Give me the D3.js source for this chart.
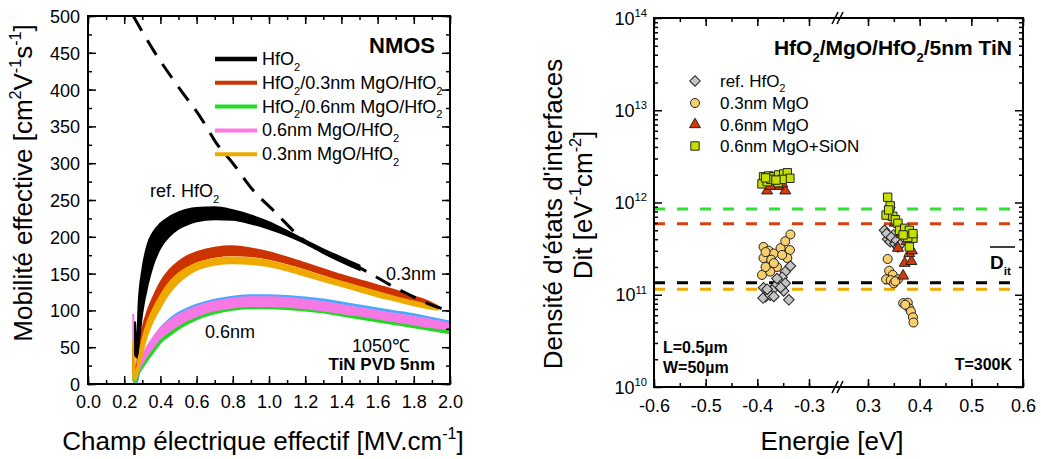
<!DOCTYPE html>
<html><head><meta charset="utf-8">
<script src="https://cdn.jsdelivr.net/npm/d3@7"></script>
<style>
body{margin:0;background:#fff}
svg{display:block}
text{font-family:"Liberation Sans",Arial,Helvetica,sans-serif;fill:#000}
</style>
</head><body>
<svg id="c" width="1041" height="459"></svg>
<script>
// ---------------- LEFT PANEL DATA (mobility vs effective field) ----------------
const eHfO2 = [0.26,0.27,0.28,0.30,0.33,0.36,0.40,0.45,0.50,0.55,0.60,0.70,0.80,0.90,1.00,1.10,1.20,1.30,1.40,1.50];
const hfo2Upper = [85,50,110,155,190,206,218,227,233,237,239,240,236,229,220,208,195,183,172,161];
const hfo2Lower = [40,36,55,97,135,162,185,201,211,217,221,224,223,218,211,202,191,178,166,155];

const eMgO03 = [0.25,0.26,0.27,0.28,0.30,0.33,0.36,0.40,0.45,0.50,0.55,0.60,0.70,0.80,0.90,1.00,1.10,1.20,1.30,1.40,1.50,1.60,1.70,1.80,1.90,1.93];
const sandw03Upper = [50,20,25,50,75,100,118,138,155,166,174,179,185,187,184,179,172,164,156,148,141,134,127,119,110,106];
const sandw03Lower = [20,10,15,30,55,80,98,118,137,150,159,166,173,175,174,170,164,157,149,141,134,127,120,113,106,103];
const bot03Upper = [60,15,20,35,60,85,102,120,138,150,158,164,170,172,171,167,161,154,146,139,132,125,118,112,106,104];
const bot03Lower = [10,5,12,22,42,68,86,104,124,138,148,155,162,164,163,160,154,147,140,133,126,119,113,107,102,101];

const eMgO06 = [0.25,0.26,0.27,0.28,0.30,0.33,0.36,0.40,0.45,0.50,0.55,0.60,0.70,0.80,0.90,1.00,1.10,1.20,1.30,1.40,1.50,1.60,1.70,1.80,1.90,2.00];
const sandw06Upper = [30,10,14,22,32,44,54,66,76,84,90,96,103,108,110,110,109,107,104,100,96,92,88,84,80,76];
const sandw06Lower = [5,3,8,14,22,33,43,56,66,75,82,88,96,101,103,103,102,100,97,93,89,85,81,77,73,69];
const bot06Upper = [95,20,18,26,38,52,63,76,86,94,100,105,112,116,118,118,117,114,111,107,103,99,95,91,87,82];
const bot06Lower = [15,8,12,18,28,40,50,62,72,80,87,92,100,104,106,106,105,103,100,96,93,89,85,81,77,74];
const blueCurve = [2,0,4,16,30,47,60,75,87,96,102,107,114,118,120,120,119,117,114,110,106,102,98,94,89,84];

// universal mobility reference (dashed)
const limitE  = [0.25,0.36,0.51,0.62,0.71,0.80,0.91,1.04,1.17,1.35,1.49,1.72,1.98,2.00];
const limitMu = [500, 454, 400, 363, 327, 300, 264, 232, 200, 173, 159, 128, 101, 100];

const legendLeftNames = ["HfO_{2}", "HfO_{2}/0.3nm MgO/HfO_{2}", "HfO_{2}/0.6nm MgO/HfO_{2}", "0.6nm MgO/HfO_{2}", "0.3nm MgO/HfO_{2}"];
const legendLeftColors = ["#000000", "#cc3300", "#22dd22", "#ff77e6", "#eeaa00"];

const xTicksLeft = [0,0.2,0.4,0.6,0.8,1.0,1.2,1.4,1.6,1.8,2.0];
const yTicksLeft = [0,50,100,150,200,250,300,350,400,450,500];

// ---------------- RIGHT PANEL DATA (Dit vs energy) ----------------
const refHfO2E = [-0.336,-0.346,-0.352,-0.359,-0.365,-0.371,-0.378,-0.384,-0.389,-0.388,-0.346,-0.349,-0.339,-0.375,-0.381,-0.362,-0.355,-0.368,
                  0.332,0.338,0.343,0.349,0.352,0.358,0.336,0.345,0.355,0.362];
const refHfO2D = [2.05e11,1.78e11,1.55e11,1.38e11,1.24e11,1.12e11,1.04e11,9.5e10,9.2e10,1.19e11,1.33e11,1.1e11,8.8e10,9.9e10,1.15e11,1.5e11,1.2e11,9.6e10,
                  5.0e11,4.0e11,3.76e11,4.45e11,3.6e11,3.3e11,4.6e11,4.2e11,3.9e11,3.5e11];
const mgo03E = [-0.336,-0.388,-0.378,-0.368,-0.355,-0.346,-0.337,-0.342,-0.388,-0.373,-0.362,-0.391,-0.375,-0.384,-0.368,-0.352,-0.384,
                0.338,0.341,0.348,0.335,0.344,0.350,0.358,0.368,0.377,0.380,0.383,0.387,0.388,0.372,0.353];
const mgo03D = [4.5e11,3.3e11,3.0e11,2.8e11,3.2e11,3.8e11,3.05e11,2.5e11,2.5e11,2.4e11,2.0e11,1.64e11,1.78e11,2.0e11,2.2e11,2.7e11,2.9e11,
                2.44e11,1.82e11,1.64e11,1.47e11,1.44e11,1.33e11,1.47e11,8.1e10,8.2e10,7.1e10,6.6e10,5.7e10,5.0e10,7.8e10,1.4e11];
const mgo06E = [-0.381,-0.346,-0.370,-0.360,-0.352,-0.375,
                0.342,0.348,0.352,0.358,0.371,0.384,0.368,0.365,0.375,0.380,0.385];
const mgo06D = [1.34e12,1.34e12,1.55e12,1.5e12,1.6e12,1.5e12,
                9.5e11,7.0e11,6.0e11,3.2e11,2.2e11,2.3e11,1.6e11,4.5e11,3.8e11,2.8e11,3.0e11];
const sionE = [-0.388,-0.378,-0.368,-0.359,-0.349,-0.342,-0.337,-0.391,-0.381,-0.360,-0.374,-0.352,-0.384,-0.364,
               0.338,0.343,0.335,0.348,0.353,0.358,0.361,0.371,0.380,0.387,0.377,0.380,0.368,0.387,0.340];
const sionD = [1.9e12,1.94e12,1.9e12,1.99e12,2.04e12,2.1e12,1.83e12,1.59e12,1.68e12,1.64e12,1.78e12,1.78e12,1.85e12,1.75e12,
               1.14e12,9.2e11,7.3e11,7.1e11,6.5e11,5.95e11,5.0e11,5.25e11,5.0e11,4.1e11,4.2e11,3.3e11,4.45e11,4.6e11,8.3e11];

const meanDit = [8.5e11, 5.9e11, 1.35e11, 1.15e11];
const meanDitColors = ["#33dd33", "#d84010", "#000000", "#eeaa00"];

const legendRightNames = ["ref. HfO_{2}", "0.3nm MgO", "0.6nm MgO", "0.6nm MgO+SiON"];
const xTicksRightNeg = [-0.6,-0.5,-0.4,-0.3];
const xTicksRightPos = [0.3,0.4,0.5,0.6];
const yDecades = [1e10,1e11,1e12,1e13,1e14];

// ---------------- helpers ----------------
const svg = d3.select("#c");
const FONT = '"Liberation Sans",Arial,Helvetica,sans-serif';

function rich(sel, str, fs) {
  const re = /([_^])\{([^}]*)\}/g;
  let last = 0, m, shift = 0;
  const parts = [];
  while ((m = re.exec(str)) !== null) {
    if (m.index > last) parts.push(["n", str.slice(last, m.index)]);
    parts.push([m[1] === "_" ? "sub" : "sup", m[2]]);
    last = re.lastIndex;
  }
  if (last < str.length) parts.push(["n", str.slice(last)]);
  parts.forEach(([mode, t]) => {
    const target = mode === "sub" ? 0.32 * fs : mode === "sup" ? -0.42 * fs : 0;
    const ts = sel.append("tspan").text(t).attr("dy", target - shift);
    if (mode !== "n") ts.attr("font-size", (0.62 * fs) + "px");
    shift = target;
  });
  return sel;
}
function label(g, x, y, str, fs, opts = {}) {
  const t = g.append("text").attr("x", x).attr("y", y)
    .attr("font-size", fs + "px")
    .attr("font-weight", opts.bold ? "bold" : "normal")
    .attr("text-anchor", opts.anchor || "start");
  if (opts.transform) t.attr("transform", opts.transform).attr("x", 0).attr("y", 0);
  rich(t, str, fs);
  return t;
}

// ================= LEFT PANEL =================
const L = {x0: 88, x1: 450, y0: 16, y1: 384};
const xl = d3.scaleLinear([0, 2], [L.x0, L.x1]);
const yl = d3.scaleLinear([0, 500], [L.y1, L.y0]);

svg.append("defs").append("clipPath").attr("id", "clipL")
  .append("rect").attr("x", L.x0).attr("y", L.y0).attr("width", L.x1 - L.x0).attr("height", L.y1 - L.y0);

const gl = svg.append("g");
const curves = gl.append("g").attr("clip-path", "url(#clipL)");

const band = (E, up, lo) => E.map((e, i) => ({e, hi: up[i], lo: lo[i]}));
const areaGen = d3.area().x(d => xl(d.e)).y0(d => yl(d.lo)).y1(d => yl(d.hi)).curve(d3.curveMonotoneX);
const lineGen = d3.line().x(d => xl(d[0])).y(d => yl(d[1])).curve(d3.curveMonotoneX);

function drawBand(E, up, lo, color) {
  const data = band(E, up, lo);
  curves.append("path").datum(data).attr("d", areaGen).attr("fill", color).attr("stroke", color).attr("stroke-width", 2);
}

// blue thin curve
curves.append("path").datum(eMgO06.map((e, i) => [e, blueCurve[i]])).attr("d", lineGen)
  .attr("fill", "none").attr("stroke", "#4aa8ff").attr("stroke-width", 3);
drawBand(eMgO06, sandw06Upper, sandw06Lower, "#22d822");
drawBand(eMgO06, bot06Upper, bot06Lower, "#f678e4");
drawBand(eMgO03, sandw03Upper, sandw03Lower, "#cc3300");
drawBand(eMgO03, bot03Upper, bot03Lower, "#eeaa00");
drawBand(eHfO2, hfo2Upper, hfo2Lower, "#000000");

// universal-mobility dashed curve
curves.append("path").datum(limitE.map((e, i) => [e, limitMu[i]]))
  .attr("d", lineGen)
  .attr("fill", "none").attr("stroke", "#000").attr("stroke-width", 3).attr("stroke-dasharray", "17,11");

// axes (inward ticks)
function styleAxis(g) { g.select(".domain").remove(); g.selectAll("line").attr("stroke", "#000").attr("stroke-width", 1.5); }
const xMinorL = d3.range(0, 2.01, 0.1).map(v => +v.toFixed(1));
const yMinorL = d3.range(0, 501, 25);
gl.append("g").attr("transform", `translate(0,${L.y1})`).call(d3.axisBottom(xl).tickValues(xMinorL).tickSize(-4).tickFormat("")).call(styleAxis);
gl.append("g").attr("transform", `translate(0,${L.y0})`).call(d3.axisTop(xl).tickValues(xMinorL).tickSize(-4).tickFormat("")).call(styleAxis);
gl.append("g").attr("transform", `translate(${L.x0},0)`).call(d3.axisLeft(yl).tickValues(yMinorL).tickSize(-4).tickFormat("")).call(styleAxis);
gl.append("g").attr("transform", `translate(${L.x1},0)`).call(d3.axisRight(yl).tickValues(yMinorL).tickSize(-4).tickFormat("")).call(styleAxis);

const axBL = gl.append("g").attr("transform", `translate(0,${L.y1})`)
  .call(d3.axisBottom(xl).tickValues(xTicksLeft).tickSize(-8).tickFormat(d => d.toFixed(1))).call(styleAxis);
axBL.selectAll("text").attr("font-family", FONT).attr("font-size", "18px").attr("fill", "#000").attr("y", 24).attr("dy", 0);
gl.append("g").attr("transform", `translate(0,${L.y0})`).call(d3.axisTop(xl).tickValues(xTicksLeft).tickSize(-8).tickFormat("")).call(styleAxis);
const axLL = gl.append("g").attr("transform", `translate(${L.x0},0)`)
  .call(d3.axisLeft(yl).tickValues(yTicksLeft).tickSize(-8).tickFormat(d3.format("d"))).call(styleAxis);
axLL.selectAll("text").attr("font-family", FONT).attr("font-size", "18px").attr("fill", "#000").attr("x", -8).attr("dy", "0.36em");
gl.append("g").attr("transform", `translate(${L.x1},0)`).call(d3.axisRight(yl).tickValues(yTicksLeft).tickSize(-8).tickFormat("")).call(styleAxis);

gl.append("rect").attr("x", L.x0).attr("y", L.y0).attr("width", L.x1 - L.x0).attr("height", L.y1 - L.y0)
  .attr("fill", "none").attr("stroke", "#000").attr("stroke-width", 2);

// legend
legendLeftNames.forEach((n, i) => {
  const yy = 59 + i * 23.8;
  gl.append("line").attr("x1", 215).attr("x2", 257).attr("y1", yy).attr("y2", yy)
    .attr("stroke", legendLeftColors[i]).attr("stroke-width", i === 0 ? 4.5 : 4);
  label(gl, 262, yy + 6, n, 18);
});

label(gl, 435, 53, "NMOS", 22, {bold: true, anchor: "end"});
label(gl, 150, 197, "ref. HfO_{2}", 18);
label(gl, 386, 280, "0.3nm", 18);
label(gl, 205, 338, "0.6nm", 18);
label(gl, 352, 352, "1050\u2103", 18);
label(gl, 435, 370, "TiN PVD 5nm", 17, {bold: true, anchor: "end"});

label(gl, 0, 0, "Mobilité effective [cm^{2}V^{-1}s^{-1}]", 26, {anchor: "middle", transform: "translate(32,183) rotate(-90)"});
label(gl, 263, 450, "Champ électrique effectif [MV.cm^{-1}]", 26, {anchor: "middle"});

// ================= RIGHT PANEL =================
const R = {x0: 654, x1: 1023, y0: 18, y1: 387};
const xrN = d3.scaleLinear([-0.6, -0.3], [654, 809]);
const xrP = d3.scaleLinear([0.3, 0.6], [868, 1023]);
const xr = e => e < 0 ? xrN(e) : xrP(e);
const yr = d3.scaleLog([1e10, 1e14], [R.y1, R.y0]);

const gr = svg.append("g");

// mean Dit dashed lines
meanDit.forEach((v, i) => {
  gr.append("line").attr("x1", R.x0).attr("x2", R.x1).attr("y1", yr(v)).attr("y2", yr(v))
    .attr("stroke", meanDitColors[i]).attr("stroke-width", 3).attr("stroke-dasharray", "11,12");
});

function pts(E, D) { return E.map((e, i) => [e, D[i]]); }
function drawSym(data, type, size, fill, rot) {
  gr.append("g").selectAll("path").data(data).join("path")
    .attr("d", d3.symbol(type, size))
    .attr("transform", d => `translate(${xr(d[0])},${yr(d[1])})` + (rot ? ` rotate(${rot})` : ""))
    .attr("fill", fill).attr("stroke", "#222").attr("stroke-width", 1);
}
drawSym(pts(mgo03E, mgo03D), d3.symbolCircle, 64, "#f8cf6c");
drawSym(pts(refHfO2E, refHfO2D), d3.symbolSquare, 56, "#c4c4c4", 45);
drawSym(pts(mgo06E, mgo06D), d3.symbolTriangle, 52, "#d33a08");
drawSym(pts(sionE, sionD), d3.symbolSquare, 70, "#c6e000");

// axes
const xMinN = d3.range(-0.6, -0.29, 0.05).map(v => +v.toFixed(2));
const xMinP = d3.range(0.3, 0.61, 0.05).map(v => +v.toFixed(2));
[[xrN, xMinN, xTicksRightNeg], [xrP, xMinP, xTicksRightPos]].forEach(([sc, mins, majs]) => {
  gr.append("g").attr("transform", `translate(0,${R.y1})`).call(d3.axisBottom(sc).tickValues(mins).tickSize(-4).tickFormat("")).call(styleAxis);
  gr.append("g").attr("transform", `translate(0,${R.y0})`).call(d3.axisTop(sc).tickValues(mins).tickSize(-4).tickFormat("")).call(styleAxis);
  const a = gr.append("g").attr("transform", `translate(0,${R.y1})`)
    .call(d3.axisBottom(sc).tickValues(majs).tickSize(-8).tickFormat(d => d.toFixed(1))).call(styleAxis);
  a.selectAll("text").attr("font-family", FONT).attr("font-size", "18px").attr("fill", "#000").attr("y", 25).attr("dy", 0);
  gr.append("g").attr("transform", `translate(0,${R.y0})`).call(d3.axisTop(sc).tickValues(majs).tickSize(-8).tickFormat("")).call(styleAxis);
});
const yMinR = [];
for (let dec = 1e10; dec < 1e14; dec *= 10) for (let k = 2; k <= 9; k++) yMinR.push(k * dec);
gr.append("g").attr("transform", `translate(${R.x0},0)`).call(d3.axisLeft(yr).tickValues(yMinR).tickSize(-4).tickFormat("")).call(styleAxis);
gr.append("g").attr("transform", `translate(${R.x1},0)`).call(d3.axisRight(yr).tickValues(yMinR).tickSize(-4).tickFormat("")).call(styleAxis);
gr.append("g").attr("transform", `translate(${R.x0},0)`).call(d3.axisLeft(yr).tickValues(yDecades).tickSize(-8).tickFormat("")).call(styleAxis);
gr.append("g").attr("transform", `translate(${R.x1},0)`).call(d3.axisRight(yr).tickValues(yDecades).tickSize(-8).tickFormat("")).call(styleAxis);
yDecades.forEach(v => {
  label(gr, 647, yr(v) + 6.5, "10^{" + Math.round(Math.log10(v)) + "}", 18, {anchor: "end"});
});

gr.append("rect").attr("x", R.x0).attr("y", R.y0).attr("width", R.x1 - R.x0).attr("height", R.y1 - R.y0)
  .attr("fill", "none").attr("stroke", "#000").attr("stroke-width", 2);

// axis break marks
[R.y0, R.y1].forEach(yy => {
  [0, 5].forEach(off => {
    gr.append("line").attr("x1", 832 + off).attr("y1", yy + 6).attr("x2", 838 + off).attr("y2", yy - 6)
      .attr("stroke", "#000").attr("stroke-width", 1.6);
  });
});

// legend
const legSyms = [[d3.symbolSquare, 56, "#c4c4c4", 45], [d3.symbolCircle, 64, "#f8cf6c", 0], [d3.symbolTriangle, 52, "#d33a08", 0], [d3.symbolSquare, 70, "#c6e000", 0]];
const legY = [81, 103, 124.5, 146];
legendRightNames.forEach((n, i) => {
  const [t, s, f, r] = legSyms[i];
  gr.append("path").attr("d", d3.symbol(t, s)).attr("transform", `translate(695,${legY[i]})` + (r ? ` rotate(${r})` : ""))
    .attr("fill", f).attr("stroke", "#222").attr("stroke-width", 1);
  label(gr, 720, legY[i] + 6, n, 17);
});

label(gr, 1012, 55, "HfO_{2}/MgO/HfO_{2}/5nm TiN", 21, {bold: true, anchor: "end"});
label(gr, 663, 353, "L=0.5µm", 16, {bold: true});
label(gr, 663, 373, "W=50µm", 16, {bold: true});
label(gr, 1012, 370, "T=300K", 16, {bold: true, anchor: "end"});
label(gr, 990, 269, "D_{it}", 19, {bold: true});
gr.append("line").attr("x1", 990).attr("x2", 1015).attr("y1", 247).attr("y2", 247).attr("stroke", "#000").attr("stroke-width", 1.5);

label(gr, 0, 0, "Densité d'états d'interfaces", 26, {anchor: "middle", transform: "translate(562,214) rotate(-90)"});
label(gr, 0, 0, "Dit [eV^{-1}cm^{-2}]", 26, {anchor: "middle", transform: "translate(592,205) rotate(-90)"});
label(gr, 832, 450, "Energie [eV]", 26, {anchor: "middle"});
</script>
</body></html>
